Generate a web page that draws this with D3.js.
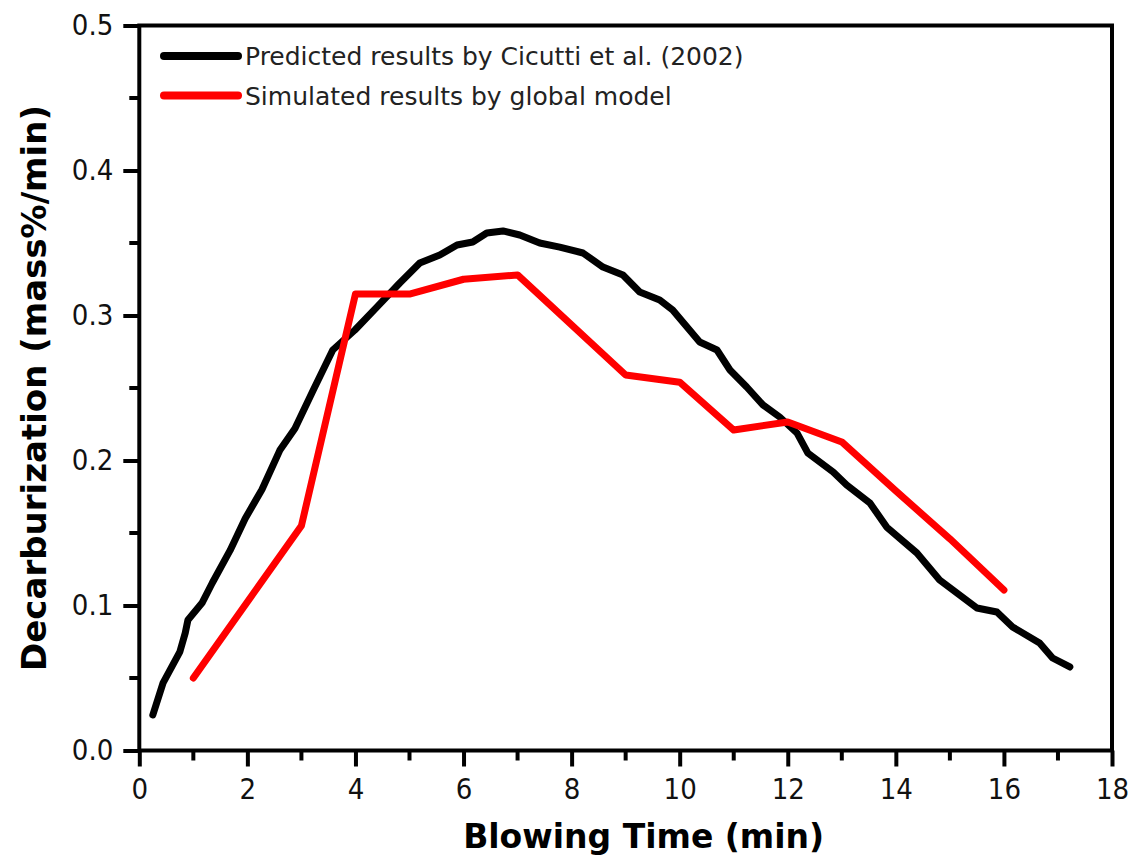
<!DOCTYPE html>
<html>
<head>
<meta charset="utf-8">
<script src="https://cdn.jsdelivr.net/npm/d3@7/dist/d3.min.js"></script>
<style>
  html, body { margin: 0; padding: 0; background: #fff; }
  svg { display: block; }
  .lbl { font-family: "DejaVu Sans Condensed", "DejaVu Sans", sans-serif; font-stretch: condensed; }
  .wide { font-family: "DejaVu Sans", sans-serif; }
</style>
</head>
<body>
<svg id="chart" width="1133" height="856"></svg>
<script>
// Decarburization rate vs. blowing time
const cicuttiTime = [0.25, 0.44, 0.75, 0.85, 0.9, 1.16, 1.35, 1.68, 1.96, 2.27, 2.6, 2.88, 3.22, 3.58, 3.99, 4.4, 4.82, 5.19, 5.56, 5.88, 6.17, 6.43, 6.73, 7.04, 7.41, 7.78, 8.21, 8.58, 8.95, 9.26, 9.63, 9.87, 10.37, 10.69, 10.93, 11.24, 11.54, 11.85, 12.17, 12.37, 12.84, 13.09, 13.52, 13.83, 14.39, 14.81, 15.5, 15.87, 16.16, 16.66, 16.9, 17.22];
const cicuttiRate = [0.0245, 0.0466, 0.068, 0.081, 0.09, 0.1017, 0.1155, 0.138, 0.16, 0.18, 0.207, 0.222, 0.2486, 0.2762, 0.29, 0.3059, 0.3224, 0.3362, 0.3417, 0.3486, 0.3507, 0.3569, 0.3583, 0.3555, 0.35, 0.3472, 0.3431, 0.3334, 0.3279, 0.3162, 0.3107, 0.3038, 0.2817, 0.2762, 0.2624, 0.2507, 0.2383, 0.23, 0.219, 0.2052, 0.1921, 0.1831, 0.1707, 0.1541, 0.1362, 0.1176, 0.0983, 0.0955, 0.0852, 0.0741, 0.0638, 0.0576];

const modelTime = [1, 3, 4, 5, 6, 7, 9, 10, 11, 12, 13, 14, 15, 16];
const modelRate = [0.05, 0.155, 0.3148, 0.3148, 0.325, 0.328, 0.259, 0.254, 0.221, 0.2266, 0.2128, 0.179, 0.146, 0.1107];

const xMajorTicks = [0, 2, 4, 6, 8, 10, 12, 14, 16, 18];
const xMinorTicks = [1, 3, 5, 7, 9, 11, 13, 15, 17];
const yMajorTicks = [0.0, 0.1, 0.2, 0.3, 0.4, 0.5];
const yMinorTicks = [0.05, 0.15, 0.25, 0.35, 0.45];

const seriesNames = ["Predicted results by Cicutti et al. (2002)", "Simulated results by global model"];
const seriesColors = ["#000000", "#ff0000"];
const xTitle = "Blowing Time (min)";
const yTitle = "Decarburization (mass%/min)";

const svg = d3.select("#chart");
const plotLeft = 139.3, plotRight = 1112, plotTop = 25.5, plotBottom = 750.5;

const x = d3.scaleLinear().domain([0, 18]).range([plotLeft, plotRight]);
const y = d3.scaleLinear().domain([0, 0.5]).range([plotBottom, plotTop]);

// data lines
const line = d3.line().x(d => x(d[0])).y(d => y(d[1]));
const series = [
  d3.zip(cicuttiTime, cicuttiRate),
  d3.zip(modelTime, modelRate)
];
svg.selectAll("path.series")
  .data(series)
  .join("path")
  .attr("class", "series")
  .attr("d", line)
  .attr("fill", "none")
  .attr("stroke", (d, i) => seriesColors[i])
  .attr("stroke-width", 7)
  .attr("stroke-linejoin", "round")
  .attr("stroke-linecap", "round");

// frame
svg.append("rect")
  .attr("x", plotLeft).attr("y", plotTop)
  .attr("width", plotRight - plotLeft).attr("height", plotBottom - plotTop)
  .attr("fill", "none").attr("stroke", "#000").attr("stroke-width", 4);

// x axis
const gx = svg.append("g").attr("transform", `translate(0,${plotBottom})`)
  .call(d3.axisBottom(x).tickValues(xMajorTicks).tickFormat(d3.format("d")).tickSize(16).tickPadding(12));
gx.append("g").selectAll("line").data(xMinorTicks).join("line")
  .attr("x1", d => x(d)).attr("x2", d => x(d)).attr("y1", 0).attr("y2", 10);

// y axis
const gy = svg.append("g").attr("transform", `translate(${plotLeft},0)`)
  .call(d3.axisLeft(y).tickValues(yMajorTicks).tickFormat(d3.format(".1f")).tickSize(16).tickPadding(10));
gy.append("g").selectAll("line").data(yMinorTicks).join("line")
  .attr("y1", d => y(d)).attr("y2", d => y(d)).attr("x1", 0).attr("x2", -10);

[gx, gy].forEach(g => {
  g.select(".domain").remove();
  g.selectAll("line").attr("stroke", "#000").attr("stroke-width", 4);
  g.selectAll("text")
    .attr("class", "lbl")
    .attr("font-size", 29)
    .attr("fill", "#111");
});

// axis titles
svg.append("text")
  .attr("class", "wide")
  .attr("x", (plotLeft + plotRight) / 2 + 18).attr("y", 848)
  .attr("text-anchor", "middle")
  .attr("font-size", 33).attr("font-weight", "bold")
  .attr("fill", "#000")
  .text(xTitle);

svg.append("text")
  .attr("class", "wide")
  .attr("transform", `translate(46,${(plotTop + plotBottom) / 2}) rotate(-90)`)
  .attr("text-anchor", "middle")
  .attr("font-size", 34).attr("font-weight", "bold")
  .attr("fill", "#000")
  .text(yTitle);

// legend
const legend = svg.append("g");
const legendRows = legend.selectAll("g").data(seriesNames).join("g")
  .attr("transform", (d, i) => `translate(0,${56 + i * 39.5})`);
legendRows.append("line")
  .attr("x1", 164).attr("x2", 238).attr("y1", 0).attr("y2", 0)
  .attr("stroke", (d, i) => seriesColors[i])
  .attr("stroke-width", 8)
  .attr("stroke-linecap", "round");
legendRows.append("text")
  .attr("class", "wide")
  .attr("x", 245).attr("y", 9)
  .attr("font-size", 25)
  .attr("fill", "#222")
  .text(d => d);
</script>
</body>
</html>
